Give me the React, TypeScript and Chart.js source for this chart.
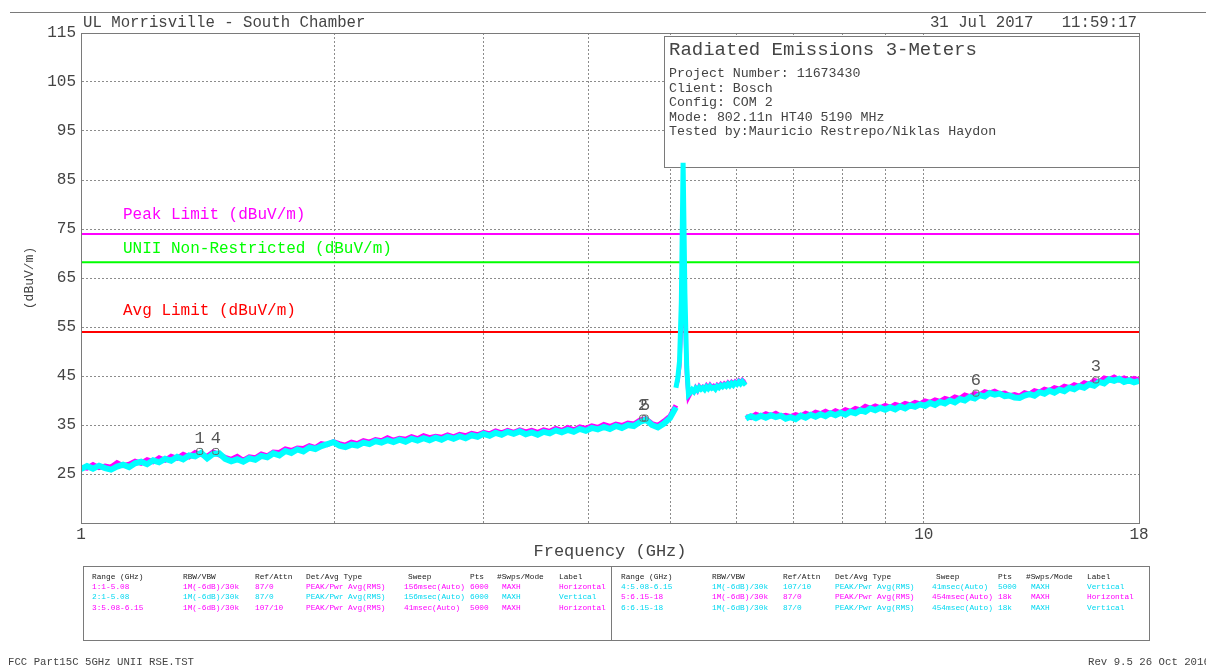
import React, { useEffect, useRef } from 'react';
import { Chart, registerables } from 'chart.js';

Chart.register(...registerables);

// ---------------- data ----------------
const SEG_START = [1, 5.08, 6.15];
const SEG_STOP = [5.08, 6.15, 18];

// Range 1 (Horizontal) / Range 2 (Vertical): 1 - 5.08 GHz
const H_1_508 = [
  26.4, 26.2, 26.9, 26.3, 26.6, 26.4, 27.3, 26.7, 27.0, 27.6,
  27.2, 27.9, 27.5, 28.3, 27.8, 28.6, 28.2, 29.0, 28.5, 29.4,
  29.0, 28.6, 29.5, 28.9, 28.4, 28.0, 28.6, 27.8, 28.5, 28.3,
  29.1, 28.7, 29.5, 29.4, 30.1, 29.8, 30.3, 30.2, 30.8, 30.4,
  31.2, 31.0, 31.6, 31.2, 30.9, 31.5, 31.2, 31.8, 31.5, 32.0,
  31.8, 32.4, 31.9, 32.3, 32.1, 32.6, 32.2, 32.8, 32.4, 32.7,
  32.5, 33.0, 32.6, 33.1, 32.8, 33.3, 33.0, 33.5, 33.2, 33.8,
  33.4, 33.9, 33.5, 34.0, 33.6, 33.9, 33.5, 34.0, 33.7, 34.3,
  33.9, 34.5, 34.0, 34.6, 34.3, 34.8, 34.5, 35.1, 34.7, 35.2,
  34.9, 35.4, 35.2, 36.0, 36.3, 35.3, 34.9, 35.8, 36.8, 39.0,
];
const V_1_508 = [
  26.0, 26.6, 26.1, 26.7, 26.2, 25.9, 26.5, 26.9, 26.4, 27.2,
  27.5, 27.0, 27.8, 27.4, 28.1, 27.7, 28.5, 28.0, 28.8, 28.6,
  29.3, 28.2, 29.1, 29.2, 28.1, 27.6, 28.0, 27.5, 28.2, 27.9,
  28.7, 28.4, 29.2, 28.8, 29.7, 29.3, 30.0, 29.6, 30.4, 30.1,
  30.7, 31.1, 31.5, 30.8, 30.5, 31.0, 30.8, 31.4, 31.1, 31.7,
  31.4, 31.9, 31.5, 32.0, 31.6, 32.2, 31.8, 32.3, 31.9, 32.4,
  32.0, 32.6, 32.2, 32.7, 32.3, 32.9, 32.6, 33.2, 32.8, 33.4,
  33.0, 33.6, 33.2, 33.7, 33.1, 33.5, 33.0, 33.6, 33.3, 33.9,
  33.5, 34.0, 33.6, 34.2, 33.8, 34.4, 34.1, 34.6, 34.2, 34.8,
  34.4, 35.0, 34.8, 35.6, 36.1, 35.0, 34.5, 35.3, 36.4, 38.6,
];

// Range 3 (Horizontal) / Range 4 (Vertical): 5.08 - 6.15 GHz
const H_508_615 = [
  42.9, 44.0, 47.0, 56.0, 81.0, 58.0, 45.5, 40.6, 41.3, 42.0,
  41.7, 42.6, 42.0, 42.9, 42.4, 42.8, 42.5, 43.1, 42.6, 43.2,
  42.7, 43.0, 42.6, 43.2, 42.9, 43.4, 43.0, 43.5, 43.2, 43.7,
  43.3, 43.8, 43.4, 43.9, 43.6, 44.1, 43.7, 44.2, 43.8, 44.0,
];
const V_508_615 = [
  42.6, 44.5, 48.0, 60.0, 88.5, 62.0, 47.0, 41.2, 41.6, 42.2,
  41.8, 42.5, 42.1, 42.7, 42.3, 42.6, 42.2, 42.8, 42.4, 42.9,
  42.5, 42.7, 42.3, 42.9, 42.6, 43.1, 42.8, 43.2, 42.9, 43.4,
  43.0, 43.5, 43.1, 43.6, 43.3, 43.8, 43.4, 43.9, 43.5, 43.8,
];

// Range 5 (Horizontal) / Range 6 (Vertical): 6.15 - 18 GHz
const H_615_18 = [
  36.7, 36.5, 37.2, 36.8, 37.3, 36.9, 37.4, 36.8, 37.0, 36.7,
  37.1, 36.8, 37.4, 37.0, 37.6, 37.3, 37.8, 37.3, 37.9, 37.5,
  38.1, 37.8, 38.4, 38.1, 38.8, 38.4, 38.9, 38.5, 39.0, 38.6,
  39.2, 38.9, 39.4, 39.1, 39.6, 39.3, 39.9, 39.6, 40.1, 39.8,
  40.4, 40.1, 40.7, 40.4, 41.1, 40.8, 41.4, 41.2, 41.8, 41.5,
  41.9, 41.4, 41.5, 41.0, 41.2, 40.9, 41.6, 41.3, 42.0, 41.7,
  42.3, 42.0, 42.6, 42.3, 42.9, 42.6, 43.2, 42.9, 43.6, 43.3,
  44.1, 43.8, 44.6, 44.3, 44.8, 44.2, 44.6, 44.1, 44.5, 44.2,
];
const V_615_18 = [
  36.3, 36.8, 36.4, 36.9, 36.5, 37.0, 36.6, 36.9, 36.3, 36.6,
  36.2, 36.9, 36.5, 37.1, 36.7, 37.2, 36.8, 37.4, 37.0, 37.5,
  37.1, 37.7, 37.4, 38.0, 37.7, 38.4, 38.0, 38.5, 38.1, 38.6,
  38.2, 38.8, 38.4, 39.0, 38.7, 39.2, 38.9, 39.5, 39.1, 39.7,
  39.4, 40.0, 39.6, 40.3, 40.0, 40.7, 40.4, 41.1, 40.8, 41.5,
  41.2, 41.4, 40.9, 41.0, 40.6, 40.5, 41.0, 41.3, 41.0, 41.7,
  41.4, 42.0, 41.6, 42.2, 41.9, 42.6, 42.3, 42.9, 42.6, 43.3,
  43.0, 43.8, 43.5, 44.3, 44.0, 44.4, 43.8, 44.1, 43.7, 44.0,
];

const LIMIT_NAMES = ['Peak Limit (dBuV/m)', 'UNII Non-Restricted (dBuV/m)', 'Avg Limit (dBuV/m)'];
const LIMIT_VALUES = [74, 68.2, 54];

const MARKER_LABELS = ['1', '4', '2', '5', '6', '3'];
const MARKER_FREQS = [1.383, 1.445, 4.64, 4.67, 11.53, 16.0];
const MARKER_LEVELS = [29.6, 29.6, 36.4, 36.4, 41.5, 44.2];

const X_GRID = [1, 2, 3, 4, 5, 6, 7, 8, 9, 10, 18];
const X_LABELED = [1, 10, 18];
const Y_MIN = 15;
const Y_MAX = 115;
const Y_STEP = 10;

const INFO_TITLE = 'Radiated Emissions 3-Meters';
const INFO_LINES = [
  'Project Number: 11673430',
  'Client: Bosch',
  'Config: COM 2',
  'Mode: 802.11n HT40 5190 MHz',
  'Tested by:Mauricio Restrepo/Niklas Haydon',
];

const TABLE_HEADERS = ['Range (GHz)', 'RBW/VBW', 'Ref/Attn', 'Det/Avg Type', 'Sweep', 'Pts', '#Swps/Mode', 'Label'];
const TABLE_LEFT_ROWS = [
  ['1:1-5.08', '1M(-6dB)/30k', '87/0', 'PEAK/Pwr Avg(RMS)', '156msec(Auto)', '6000', 'MAXH', 'Horizontal'],
  ['2:1-5.08', '1M(-6dB)/30k', '87/0', 'PEAK/Pwr Avg(RMS)', '156msec(Auto)', '6000', 'MAXH', 'Vertical'],
  ['3:5.08-6.15', '1M(-6dB)/30k', '107/10', 'PEAK/Pwr Avg(RMS)', '41msec(Auto)', '5000', 'MAXH', 'Horizontal'],
];
const TABLE_RIGHT_ROWS = [
  ['4:5.08-6.15', '1M(-6dB)/30k', '107/10', 'PEAK/Pwr Avg(RMS)', '41msec(Auto)', '5000', 'MAXH', 'Vertical'],
  ['5:6.15-18', '1M(-6dB)/30k', '87/0', 'PEAK/Pwr Avg(RMS)', '454msec(Auto)', '18k', 'MAXH', 'Horizontal'],
  ['6:6.15-18', '1M(-6dB)/30k', '87/0', 'PEAK/Pwr Avg(RMS)', '454msec(Auto)', '18k', 'MAXH', 'Vertical'],
];

const HEADER_LEFT = 'UL Morrisville - South Chamber';
const HEADER_RIGHT = '31 Jul 2017   11:59:17';
const FOOTER_LEFT = 'FCC Part15C 5GHz UNII RSE.TST';
const FOOTER_RIGHT = 'Rev 9.5 26 Oct 2016';

// ---------------- styles ----------------
const FONT = '"Liberation Mono", "DejaVu Sans Mono", monospace';
const MAGENTA = '#ff00ff';
const CYAN = '#00ffff';
const LIMIT_COLORS = ['#ff00ff', '#00ff00', '#ff0000'];
const LIMIT_LABEL_OFFSETS = [19, 14, 21];
const TEXT_GRAY = '#444';
const GRID_GRAY = '#8c8c8c';
const FRAME_GRAY = '#7a7a7a';
const TABLE_HEAD_LEFT = [92, 183, 255, 306, 408, 470, 497, 559];
const TABLE_CELL_LEFT = [92, 183, 255, 306, 404, 470, 502, 559];
const TABLE_HEAD_RIGHT = [621, 712, 783, 835, 936, 998, 1026, 1087];
const TABLE_CELL_RIGHT = [621, 712, 783, 835, 932, 998, 1031, 1087];
const INFO_BOX = { left: 664, top: 36, right: 1139, bottom: 167 };

function sweep(start: number, stop: number, values: number[]) {
  const n = values.length;
  return values.map((v, i) => ({ x: start * Math.pow(stop / start, i / (n - 1)), y: v }));
}

const TRACES_H = [H_1_508, H_508_615, H_615_18];
const TRACES_V = [V_1_508, V_508_615, V_615_18];

const overlayPlugin = {
  id: 'overlay',
  beforeDatasetsDraw(chart: any) {
    const { ctx } = chart;
    ctx.save();
    ctx.fillStyle = '#ffffff';
    ctx.fillRect(INFO_BOX.left, INFO_BOX.top, INFO_BOX.right - INFO_BOX.left, INFO_BOX.bottom - INFO_BOX.top);
    ctx.strokeStyle = FRAME_GRAY;
    ctx.lineWidth = 1;
    ctx.strokeRect(INFO_BOX.left + 0.5, INFO_BOX.top + 0.5, INFO_BOX.right - INFO_BOX.left, INFO_BOX.bottom - INFO_BOX.top);
    ctx.restore();
  },
  afterDatasetsDraw(chart: any) {
    const { ctx, chartArea, scales } = chart;
    const xS = scales.x;
    const yS = scales.y;
    ctx.save();
    ctx.strokeStyle = FRAME_GRAY;
    ctx.lineWidth = 1;
    ctx.strokeRect(chartArea.left + 0.5, chartArea.top + 0.5, chartArea.right - chartArea.left, chartArea.bottom - chartArea.top);
    ctx.font = `16px ${FONT}`;
    ctx.textBaseline = 'middle';
    ctx.textAlign = 'left';
    LIMIT_NAMES.forEach((name, i) => {
      ctx.fillStyle = LIMIT_COLORS[i];
      ctx.fillText(name, chartArea.left + 42, yS.getPixelForValue(LIMIT_VALUES[i]) - LIMIT_LABEL_OFFSETS[i]);
    });
    ctx.font = `17px ${FONT}`;
    ctx.textAlign = 'center';
    ctx.fillStyle = '#555';
    MARKER_LABELS.forEach((lab, i) => {
      const px = xS.getPixelForValue(MARKER_FREQS[i]);
      const py = yS.getPixelForValue(MARKER_LEVELS[i]);
      ctx.fillText(lab, px, py - 13);
    });
    ctx.restore();
  },
};

function ChartView() {
  const ref = useRef<HTMLCanvasElement | null>(null);
  useEffect(() => {
    if (!ref.current) return;
    const datasets: any[] = [];
    datasets.push({
      label: 'Markers',
      data: MARKER_FREQS.map((f, i) => ({ x: f, y: MARKER_LEVELS[i] })),
      showLine: false,
      pointStyle: 'rectRounded',
      pointRadius: 3.5,
      pointBorderColor: '#666',
      pointBackgroundColor: 'rgba(0,0,0,0)',
      pointBorderWidth: 1,
      order: 0,
    });
    TRACES_V.forEach((vals, s) => {
      datasets.push({
        label: `Vertical ${s}`,
        data: sweep(SEG_START[s], SEG_STOP[s], vals),
        borderColor: CYAN,
        borderWidth: s === 1 ? 5 : 6,
        pointRadius: 0,
        tension: 0,
        order: 1,
      });
    });
    TRACES_H.forEach((vals, s) => {
      datasets.push({
        label: `Horizontal ${s}`,
        data: sweep(SEG_START[s], SEG_STOP[s], vals),
        borderColor: MAGENTA,
        borderWidth: s === 1 ? 4 : 5,
        pointRadius: 0,
        tension: 0,
        order: 2,
      });
    });
    LIMIT_NAMES.forEach((name, i) => {
      datasets.push({
        label: name,
        data: [{ x: 1, y: LIMIT_VALUES[i] }, { x: 18, y: LIMIT_VALUES[i] }],
        borderColor: LIMIT_COLORS[i],
        borderWidth: 2,
        pointRadius: 0,
        order: 3,
      });
    });

    const chart = new Chart(ref.current, {
      type: 'line',
      data: { datasets },
      plugins: [overlayPlugin],
      options: {
        animation: false,
        responsive: false,
        maintainAspectRatio: false,
        events: [],
        layout: { padding: { left: 0, top: 33, right: 67, bottom: 100 } },
        plugins: { legend: { display: false }, tooltip: { enabled: false }, title: { display: false } },
        scales: {
          x: {
            type: 'logarithmic',
            min: 1,
            max: 18,
            afterFit: (s: any) => { s.height = 44; },
            afterBuildTicks: (s: any) => { s.ticks = X_GRID.map((v) => ({ value: v })); },
            ticks: {
              autoSkip: false,
              maxRotation: 0,
              minRotation: 0,
              padding: 2,
              color: TEXT_GRAY,
              font: { family: FONT, size: 16 },
              callback: (v: any) => (X_LABELED.includes(Number(v)) ? String(v) : ''),
            },
            grid: { color: GRID_GRAY, lineWidth: 1, drawTicks: false },
            border: { display: true, color: FRAME_GRAY, width: 1, dash: [2, 2] },
            title: { display: true, text: 'Frequency (GHz)', color: TEXT_GRAY, font: { family: FONT, size: 17 }, padding: { top: 0, bottom: 5 } },
          },
          y: {
            type: 'linear',
            min: Y_MIN,
            max: Y_MAX,
            afterFit: (s: any) => { s.width = 81; },
            ticks: {
              stepSize: Y_STEP,
              padding: 5,
              color: TEXT_GRAY,
              font: { family: FONT, size: 16 },
              callback: (v: any) => (Number(v) === Y_MIN ? '' : String(v)),
            },
            grid: { color: GRID_GRAY, lineWidth: 1, drawTicks: false },
            border: { display: true, color: FRAME_GRAY, width: 1, dash: [2, 2] },
            title: { display: true, text: '(dBuV/m)', color: TEXT_GRAY, font: { family: FONT, size: 13 }, padding: { top: 22, bottom: 0 } },
          },
        },
      } as any,
    });
    return () => chart.destroy();
  }, []);
  return <canvas ref={ref} width={1206} height={667} style={{ position: 'absolute', left: 0, top: 0, width: 1206, height: 667 }} />;
}

function Txt(props: { left?: number; right?: number; top: number; size: number; color?: string; children: any }) {
  const st: any = {
    position: 'absolute',
    top: props.top,
    fontFamily: FONT,
    fontSize: props.size,
    lineHeight: 1,
    whiteSpace: 'pre',
    color: props.color || TEXT_GRAY,
  };
  if (props.left !== undefined) st.left = props.left;
  if (props.right !== undefined) st.right = props.right;
  return <div style={st}>{props.children}</div>;
}

function TableHalf({ head, cells, rows }: { head: number[]; cells: number[]; rows: string[][] }) {
  const tops = [573.5, 583.5, 594, 604.5];
  return (
    <>
      {TABLE_HEADERS.map((h, c) => (
        <Txt key={'h' + c} left={head[c]} top={tops[0]} size={7.8} color="#222">{h}</Txt>
      ))}
      {rows.map((row, r) =>
        row.map((cell, c) => (
          <Txt key={r + '-' + c} left={cells[c]} top={tops[r + 1]} size={7.8} color={row[7] === 'Horizontal' ? MAGENTA : '#00d8f0'}>{cell}</Txt>
        ))
      )}
    </>
  );
}

export default function App() {
  return (
    <div style={{ position: 'fixed', left: 0, top: 0, width: 1206, height: 667, overflow: 'hidden', background: '#fff' }}>
      <ChartView />
      <div style={{ position: 'absolute', left: 10, top: 12, width: 1196, borderTop: `1px solid ${FRAME_GRAY}` }} />
      <Txt left={83} top={16} size={15.7}>{HEADER_LEFT}</Txt>
      <Txt right={69} top={16} size={15.7}>{HEADER_RIGHT}</Txt>
      <Txt left={669} top={40.5} size={19}>{INFO_TITLE}</Txt>
      {INFO_LINES.map((l, i) => (
        <Txt key={i} left={669} top={67.2 + i * 14.5} size={13.3}>{l}</Txt>
      ))}
      <div style={{ position: 'absolute', left: 83, top: 566, width: 1067, height: 75, border: `1px solid ${FRAME_GRAY}`, boxSizing: 'border-box' }} />
      <div style={{ position: 'absolute', left: 611, top: 566, width: 0, height: 75, borderLeft: `1px solid ${FRAME_GRAY}` }} />
      <TableHalf head={TABLE_HEAD_LEFT} cells={TABLE_CELL_LEFT} rows={TABLE_LEFT_ROWS} />
      <TableHalf head={TABLE_HEAD_RIGHT} cells={TABLE_CELL_RIGHT} rows={TABLE_RIGHT_ROWS} />
      <Txt left={8} top={656.5} size={10.7}>{FOOTER_LEFT}</Txt>
      <Txt left={1088} top={656.5} size={10.7}>{FOOTER_RIGHT}</Txt>
    </div>
  );
}
